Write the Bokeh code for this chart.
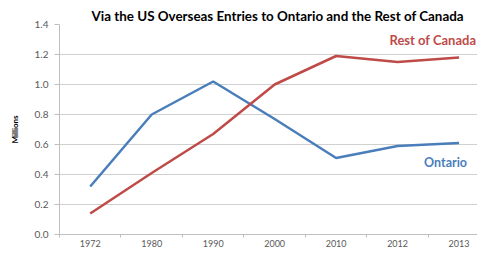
from bokeh.plotting import figure
from bokeh.models import Range1d, FixedTicker, Label
from bokeh.embed import file_html
from bokeh.resources import INLINE

years = ["1972", "1980", "1990", "2000", "2010", "2012", "2013"]
ontario = [0.32, 0.80, 1.02, 0.77, 0.51, 0.59, 0.61]
rest_of_canada = [0.14, 0.41, 0.67, 1.00, 1.19, 1.15, 1.18]
y_ticks = [0.0, 0.2, 0.4, 0.6, 0.8, 1.0, 1.2, 1.4]

title_text = "Via the US Overseas Entries to Ontario and the Rest of Canada"
FONT = "Lato"

xs = [i + 0.5 for i in range(len(years))]

p = figure(width=477, height=249, output_backend="svg", toolbar_location=None,
           x_range=Range1d(0, 6.8), y_range=Range1d(0, 1.4),
           min_border_left=59, min_border_right=0, min_border_top=24,
           min_border_bottom=12)
p.outline_line_color = None
p.background_fill_color = "white"

p.title.text = title_text
p.title.align = "left"
p.title.offset = 32
p.title.text_font = FONT
p.title.text_font_size = "13.4px"
p.title.text_font_style = "bold"
p.title.text_color = "#000000"
p.title.standoff = 2

p.line(xs, ontario, line_color="#4a7ebb", line_width=2.5)
p.line(xs, rest_of_canada, line_color="#be4b48", line_width=2.5)

# x axis
p.xaxis.ticker = FixedTicker(ticks=xs, minor_ticks=list(range(len(years) + 1)))
p.xaxis.major_label_overrides = {x: y for x, y in zip(xs, years)}
p.xaxis.major_tick_line_color = None
p.xaxis.major_tick_out = 0
p.xaxis.major_tick_in = 0
p.xaxis.minor_tick_out = 3
p.xaxis.minor_tick_in = 0
p.xaxis.minor_tick_line_color = "#bfbfbf"
p.xaxis.axis_line_color = "#bfbfbf"
p.xaxis.major_label_text_font = FONT
p.xaxis.major_label_text_font_size = "9px"
p.xaxis.major_label_text_color = "#595959"
p.xaxis.major_label_standoff = 2

# y axis
p.yaxis.ticker = FixedTicker(ticks=y_ticks)
p.yaxis.major_label_overrides = {v: f"{v:.1f}" for v in y_ticks}
p.yaxis.major_tick_out = 5
p.yaxis.major_tick_in = 0
p.yaxis.minor_tick_line_color = None
p.yaxis.major_tick_line_color = "#bfbfbf"
p.yaxis.axis_line_color = "#bfbfbf"
p.yaxis.major_label_text_font = FONT
p.yaxis.major_label_text_font_size = "10px"
p.yaxis.major_label_text_color = "#595959"
p.yaxis.major_label_standoff = 6
p.yaxis.axis_label = "Millions"
p.yaxis.axis_label_text_font = FONT
p.yaxis.axis_label_text_font_size = "8px"
p.yaxis.axis_label_text_font_style = "bold"
p.yaxis.axis_label_text_color = "#000000"
p.yaxis.axis_label_standoff = 12

p.xgrid.grid_line_color = None
p.ygrid.ticker = FixedTicker(ticks=y_ticks)
p.ygrid.grid_line_color = "#d0d0d0"
p.ygrid.grid_line_width = 1

p.add_layout(Label(x=6.78, y=1.295, text="Rest of Canada", text_align="right",
                   text_baseline="middle", text_font=FONT, text_font_size="13px",
                   text_font_style="bold", text_color="#be4b48"))
p.add_layout(Label(x=6.28, y=0.482, text="Ontario", text_align="center",
                   text_baseline="middle", text_font=FONT, text_font_size="12.5px",
                   text_font_style="bold", text_color="#4a7ebb"))

open("out.html", "w").write(file_html(p, INLINE))
